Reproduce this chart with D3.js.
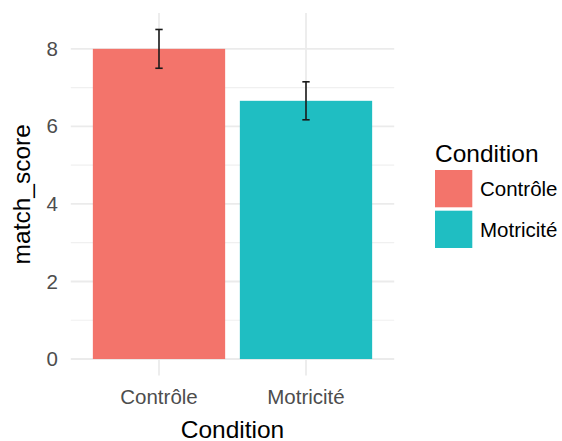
<!DOCTYPE html>
<html><head><meta charset="utf-8">
<script src="https://cdn.jsdelivr.net/npm/d3@7"></script>
<style>body{margin:0;background:#fff}svg{display:block}text{font-family:"Liberation Sans",Arial,sans-serif}</style>
</head><body>
<svg id="c" width="562" height="441"></svg>
<script>
const categories = ["Contrôle", "Motricité"];
const means = [8.0, 6.66];
const errors = [0.5, 0.49];
const yTicks = [0, 2, 4, 6, 8];
const yMinor = [1, 3, 5, 7];
const colors = ["#F3746B", "#1FBEC2"];
const legendTitle = "Condition";
const xTitle = "Condition";
const yTitle = "match_score";

const svg = d3.select("#c");
const panel = {left: 70.8, right: 394.2, top: 13, bottom: 375.5};

const upper = means.map((m, i) => m + errors[i]);
const ymax = d3.max(upper), ymin = 0;
const ex = (ymax - ymin) * 0.05;
const y = d3.scaleLinear().domain([ymin - ex, ymax + ex]).range([panel.bottom, panel.top]);
const x = d3.scaleBand().domain(categories).range([panel.left, panel.right]).paddingInner(0.1).paddingOuter(0.15);

// grid
const g = svg.append("g");
g.selectAll(".minor").data(yMinor).join("line")
  .attr("x1", panel.left).attr("x2", panel.right)
  .attr("y1", d => y(d)).attr("y2", d => y(d))
  .attr("stroke", "#f0f0f0").attr("stroke-width", 1.2);
g.selectAll(".major").data(yTicks).join("line")
  .attr("x1", panel.left).attr("x2", panel.right)
  .attr("y1", d => y(d)).attr("y2", d => y(d))
  .attr("stroke", "#ebebeb").attr("stroke-width", 1.8);
g.selectAll(".vx").data(categories).join("line")
  .attr("x1", d => x(d) + x.bandwidth() / 2).attr("x2", d => x(d) + x.bandwidth() / 2)
  .attr("y1", panel.top).attr("y2", panel.bottom)
  .attr("stroke", "#ebebeb").attr("stroke-width", 1.8);

// bars
svg.selectAll(".bar").data(categories).join("rect")
  .attr("x", d => x(d)).attr("width", x.bandwidth())
  .attr("y", (d, i) => y(means[i])).attr("height", (d, i) => y(0) - y(means[i]))
  .attr("fill", (d, i) => colors[i]);

// error bars
const capW = x.step() * 0.05;
const eb = svg.append("g").attr("stroke", "#1a1a1a").attr("stroke-width", 1.6);
categories.forEach((c, i) => {
  const cx = x(c) + x.bandwidth() / 2;
  const lo = y(means[i] - errors[i]), hi = y(means[i] + errors[i]);
  eb.append("line").attr("x1", cx).attr("x2", cx).attr("y1", lo).attr("y2", hi);
  eb.append("line").attr("x1", cx - capW/2).attr("x2", cx + capW/2).attr("y1", lo).attr("y2", lo);
  eb.append("line").attr("x1", cx - capW/2).attr("x2", cx + capW/2).attr("y1", hi).attr("y2", hi);
});

// y axis
const ya = svg.append("g").attr("transform", `translate(${panel.left},0)`)
  .call(d3.axisLeft(y).tickValues(yTicks).tickFormat(d3.format("d")).tickSize(0).tickPadding(13));
ya.select(".domain").remove();
ya.selectAll("text").attr("font-size", 20.5).attr("fill", "#4d4d4d")
  .attr("font-family", "'Liberation Sans',Arial,sans-serif");

// x axis
const xa = svg.append("g").attr("transform", `translate(0,${panel.bottom})`)
  .call(d3.axisBottom(x).tickSize(0).tickPadding(14));
xa.select(".domain").remove();
xa.selectAll("text").attr("font-size", 20.5).attr("fill", "#4d4d4d")
  .attr("font-family", "'Liberation Sans',Arial,sans-serif");

// titles
svg.append("text").attr("x", (panel.left + panel.right) / 2).attr("y", 437.5)
  .attr("text-anchor", "middle").attr("font-size", 24.5).attr("fill", "#000").text(xTitle);
svg.append("text").attr("transform", `translate(30,${(panel.top + panel.bottom) / 2}) rotate(-90)`)
  .attr("text-anchor", "middle").attr("font-size", 24.5).attr("fill", "#000").text(yTitle);

// legend
const lg = svg.append("g");
lg.append("text").attr("x", 435).attr("y", 161.5).attr("font-size", 24.5).attr("fill", "#000").text(legendTitle);
categories.forEach((c, i) => {
  const top = 170 + i * 40.7;
  lg.append("rect").attr("x", 435).attr("y", top).attr("width", 37.3).attr("height", 37.3).attr("fill", colors[i]);
  lg.append("text").attr("x", 480).attr("y", top + 18.6).attr("dy", "0.36em")
    .attr("font-size", 20.5).attr("fill", "#000").text(c);
});
</script>
</body></html>
